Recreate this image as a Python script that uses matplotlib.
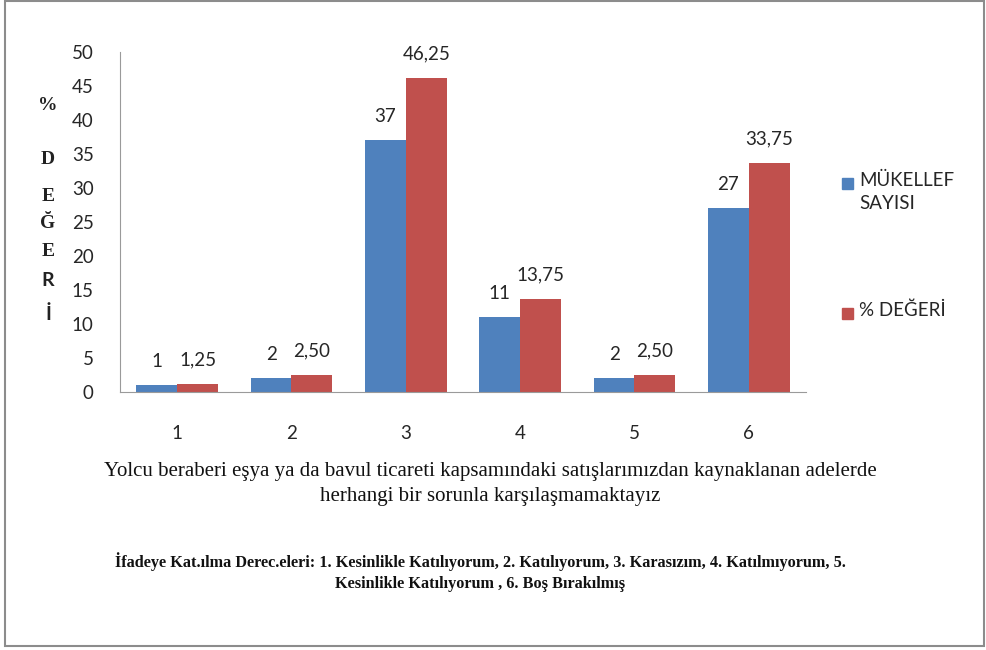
import matplotlib.pyplot as plt
import numpy as np
from matplotlib.patches import Rectangle

# categories and the two series
categories = ["1", "2", "3", "4", "5", "6"]
mukellef_sayisi = [1, 2, 37, 11, 2, 27]
yuzde_degeri = [1.25, 2.50, 46.25, 13.75, 2.50, 33.75]
yuzde_labels = ["1,25", "2,50", "46,25", "13,75", "2,50", "33,75"]
series_names = ["MÜKELLEF\nSAYISI", "% DEĞERİ"]

BLUE = "#4F81BD"
RED = "#C0504D"
SANS = ["Lato", "DejaVu Sans"]
SERIF = ["Liberation Serif", "DejaVu Serif"]

fig = plt.figure(figsize=(9.87, 6.5), dpi=100)
ax = fig.add_axes([120 / 987, 1 - 392 / 650, 686 / 987, 340 / 650])

x = np.arange(len(categories))
w = 0.357
b1 = ax.bar(x - w / 2, mukellef_sayisi, w, color=BLUE)
b2 = ax.bar(x + w / 2, yuzde_degeri, w, color=RED)

# value labels above each bar
for rect, v in zip(b1, mukellef_sayisi):
    ax.annotate(str(v), (rect.get_x() + rect.get_width() / 2, rect.get_height()),
                xytext=(0, 11), textcoords="offset points", ha="center", va="bottom",
                fontsize=13.5, family=SANS, color="#262626")
for rect, s in zip(b2, yuzde_labels):
    ax.annotate(s, (rect.get_x() + rect.get_width() / 2, rect.get_height()),
                xytext=(0, 11), textcoords="offset points", ha="center", va="bottom",
                fontsize=13.5, family=SANS, color="#262626")

ax.set_xlim(-0.5, len(categories) - 0.5)
ax.set_ylim(0, 50)
ax.set_yticks(range(0, 51, 5))
ax.set_xticks(x)
ax.set_xticklabels(categories)
for sp in ["top", "right"]:
    ax.spines[sp].set_visible(False)
for sp in ["left", "bottom"]:
    ax.spines[sp].set_color("#9a9a9a")
ax.tick_params(axis="y", length=0, pad=19, labelsize=13.5, labelcolor="#262626")
ax.tick_params(axis="x", length=0, pad=24, labelsize=13.5, labelcolor="#262626")
for lab in ax.get_xticklabels() + ax.get_yticklabels():
    lab.set_family(SANS)

# stacked vertical axis title
letters = [("%", 105, SERIF, "bold"), ("D", 159, SERIF, "bold"), ("E", 197, SERIF, "bold"),
           ("Ğ", 224, SERIF, "bold"), ("E", 252, SERIF, "bold"), ("R", 281, SANS, "bold"),
           ("İ", 314, SANS, "bold")]
for ch, py, fam, wt in letters:
    fig.text(48 / 987, 1 - py / 650, ch, ha="center", va="center", family=fam,
             weight=wt, fontsize=14, color="#222222")

# legend
leg = [(BLUE, series_names[0], 183), (RED, series_names[1], 313)]
for col, name, py in leg:
    fig.add_artist(Rectangle(((842) / 987, 1 - (py + 6) / 650), 11 / 987, 11 / 650,
                             transform=fig.transFigure, color=col))
    fig.text(859 / 987, 1 - (py - 11) / 650, name, ha="left", va="top", family=SANS,
             fontsize=13.5, color="#262626", linespacing=1.45)

# axis description and footnote
fig.text(490 / 987, 1 - 484 / 650,
         "Yolcu beraberi eşya ya da bavul ticareti kapsamındaki satışlarımızdan kaynaklanan adelerde\n"
         "herhangi bir sorunla karşılaşmamaktayız",
         ha="center", va="center", family=SERIF, fontsize=15, color="#111111", linespacing=1.4)
fig.text(480 / 987, 1 - 572 / 650,
         "İfadeye Kat.ılma Derec.eleri: 1. Kesinlikle Katılıyorum, 2. Katılıyorum, 3. Karasızım, 4. Katılmıyorum, 5.\n"
         "Kesinlikle Katılıyorum , 6. Boş Bırakılmış",
         ha="center", va="center", family=SERIF, weight="bold", fontsize=11.7,
         color="#111111", linespacing=1.45)

# outer frame
fig.add_artist(Rectangle((5 / 987, 4 / 650), 979 / 987, 645 / 650, transform=fig.transFigure,
                         fill=False, edgecolor="#8c8c8c", linewidth=1.5))

fig.savefig("out.png", dpi=100)
